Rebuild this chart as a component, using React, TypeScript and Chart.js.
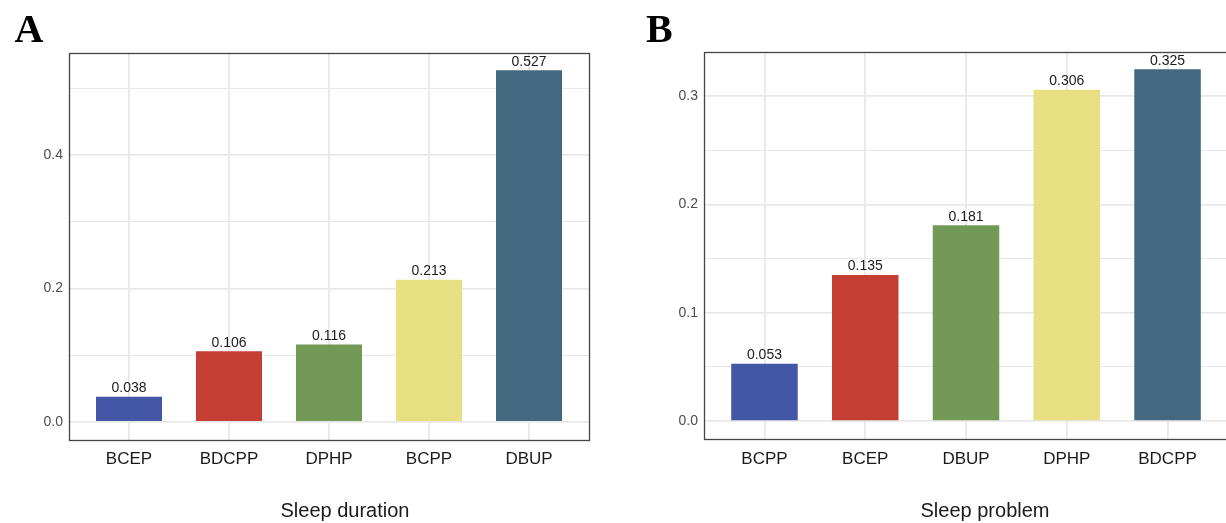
import { useEffect, useRef } from 'react';
import { Chart, registerables } from 'chart.js';

Chart.register(...registerables);

// ---- data ----
const durationCategories = ['BCEP', 'BDCPP', 'DPHP', 'BCPP', 'DBUP'];
const durationValues = [0.038, 0.106, 0.116, 0.213, 0.527];
const problemCategories = ['BCPP', 'BCEP', 'DBUP', 'DPHP', 'BDCPP'];
const problemValues = [0.053, 0.135, 0.181, 0.306, 0.325];
const barColors = ['#4456a6', '#c53e33', '#729a56', '#e8df82', '#44687f'];
const durationMajorTicks = [0, 0.2, 0.4];
const durationMinorTicks = [0.1, 0.3, 0.5];
const problemMajorTicks = [0, 0.1, 0.2, 0.3];
const problemMinorTicks = [0.05, 0.15, 0.25];

const SANS = '"Liberation Sans", Arial, Helvetica, sans-serif';
const SERIF = '"Liberation Serif", "Times New Roman", serif';
const GRID = '#e8e8e8';

const valueLabelPlugin = {
  id: 'valueLabels',
  afterDatasetsDraw(chart: any) {
    const ctx = chart.ctx;
    ctx.save();
    ctx.font = `14px ${SANS}`;
    ctx.fillStyle = '#1a1a1a';
    ctx.textAlign = 'center';
    ctx.textBaseline = 'alphabetic';
    chart.data.datasets.forEach((ds: any, di: number) => {
      const meta = chart.getDatasetMeta(di);
      meta.data.forEach((el: any, i: number) => {
        const v = ds.data[i].y as number;
        ctx.fillText(v.toFixed(3), el.x, el.y - 4.5);
      });
    });
    ctx.restore();
  },
};

const borderPlugin = {
  id: 'panelBorder',
  afterDraw(chart: any) {
    const { left, top, right, bottom } = chart.chartArea;
    const ctx = chart.ctx;
    ctx.save();
    ctx.strokeStyle = '#444444';
    ctx.lineWidth = 1.3;
    ctx.strokeRect(Math.round(left) + 0.5, Math.round(top) + 0.5, Math.round(right - left), Math.round(bottom - top));
    ctx.restore();
  },
};

type PanelProps = {
  categories: string[];
  values: number[];
  major: number[];
  minor: number[];
  yMin: number;
  yMax: number;
  canvasWidth: number;
  yAxisWidth: number;
  padTop: number;
  padRight: number;
  xAxisHeight: number;
};

function Panel(p: PanelProps) {
  const ref = useRef<HTMLCanvasElement | null>(null);
  useEffect(() => {
    if (!ref.current) return;
    const allTicks = [...p.major, ...p.minor].sort((a, b) => a - b);
    const isMajor = (v: number) => p.major.some((m) => Math.abs(m - v) < 1e-9);
    const chart = new Chart(ref.current, {
      type: 'bar',
      data: {
        datasets: [
          {
            data: p.values.map((v, i) => ({ x: i + 1, y: v })),
            backgroundColor: barColors,
            borderWidth: 0,
            categoryPercentage: 1,
            barPercentage: 0.66,
          } as any,
        ],
      },
      options: {
        animation: false,
        responsive: false,
        maintainAspectRatio: false,
        layout: { padding: { top: p.padTop, right: p.padRight, bottom: 0, left: 0 } },
        plugins: { legend: { display: false }, tooltip: { enabled: false } },
        scales: {
          x: {
            type: 'linear',
            min: 0.4,
            max: 5.6,
            offset: false,
            afterBuildTicks: (s: any) => {
              s.ticks = p.categories.map((_, i) => ({ value: i + 1 }));
            },
            afterFit: (s: any) => {
              s.height = p.xAxisHeight;
            },
            ticks: {
              autoSkip: false,
              maxRotation: 0,
              padding: 10,
              color: '#1a1a1a',
              font: { family: SANS, size: 17 },
              callback: (v: any) => p.categories[Math.round(Number(v)) - 1] ?? '',
            },
            grid: { color: GRID, lineWidth: 1.8, drawTicks: false, offset: false },
            border: { display: false },
          },
          y: {
            type: 'linear',
            min: p.yMin,
            max: p.yMax,
            afterBuildTicks: (s: any) => {
              s.ticks = allTicks.map((v) => ({ value: v }));
            },
            afterFit: (s: any) => {
              s.width = p.yAxisWidth;
            },
            ticks: {
              autoSkip: false,
              padding: 6,
              color: '#4d4d4d',
              font: { family: SANS, size: 14 },
              callback: (v: any) => (isMajor(Number(v)) ? Number(v).toFixed(1) : ''),
            },
            grid: {
              color: GRID,
              drawTicks: false,
              lineWidth: (ctx: any) => (ctx.tick && isMajor(ctx.tick.value) ? 1.8 : 1),
            },
            border: { display: false },
          },
        },
      } as any,
      plugins: [valueLabelPlugin, borderPlugin],
    });
    return () => chart.destroy();
  }, []);
  return <canvas ref={ref} width={p.canvasWidth} height={523} style={{ width: p.canvasWidth, height: 523, display: 'block' }} />;
}

const letterStyle: any = {
  position: 'absolute',
  fontFamily: SERIF,
  fontWeight: 'bold',
  fontSize: 40,
  lineHeight: '40px',
  color: '#000',
  whiteSpace: 'nowrap',
};
const titleStyle: any = {
  position: 'absolute',
  fontFamily: SANS,
  fontSize: 20,
  lineHeight: '20px',
  color: '#1a1a1a',
  whiteSpace: 'nowrap',
  transform: 'translateX(-50%)',
};

export default function App() {
  return (
    <div style={{ position: 'fixed', left: 0, top: 0, width: 1226, height: 523, overflow: 'hidden', background: '#fff' }}>
      <div style={{ position: 'absolute', left: 0, top: 0 }}>
        <Panel
          categories={durationCategories}
          values={durationValues}
          major={durationMajorTicks}
          minor={durationMinorTicks}
          yMin={-0.02635}
          yMax={0.55335}
          canvasWidth={613}
          yAxisWidth={69}
          padTop={52.6}
          padRight={24}
          xAxisHeight={83.4}
        />
      </div>
      <div style={{ position: 'absolute', left: 613, top: 0 }}>
        <Panel
          categories={problemCategories}
          values={problemValues}
          major={problemMajorTicks}
          minor={problemMinorTicks}
          yMin={-0.01625}
          yMax={0.34125}
          canvasWidth={640}
          yAxisWidth={91}
          padTop={51.7}
          padRight={25}
          xAxisHeight={84.3}
        />
      </div>
      <div style={{ ...letterStyle, left: 14.5, top: 8.5 }}>A</div>
      <div style={{ ...letterStyle, left: 646, top: 8.5 }}>B</div>
      <div style={{ ...titleStyle, left: 345, top: 500 }}>Sleep duration</div>
      <div style={{ ...titleStyle, left: 985, top: 500 }}>Sleep problem</div>
    </div>
  );
}
